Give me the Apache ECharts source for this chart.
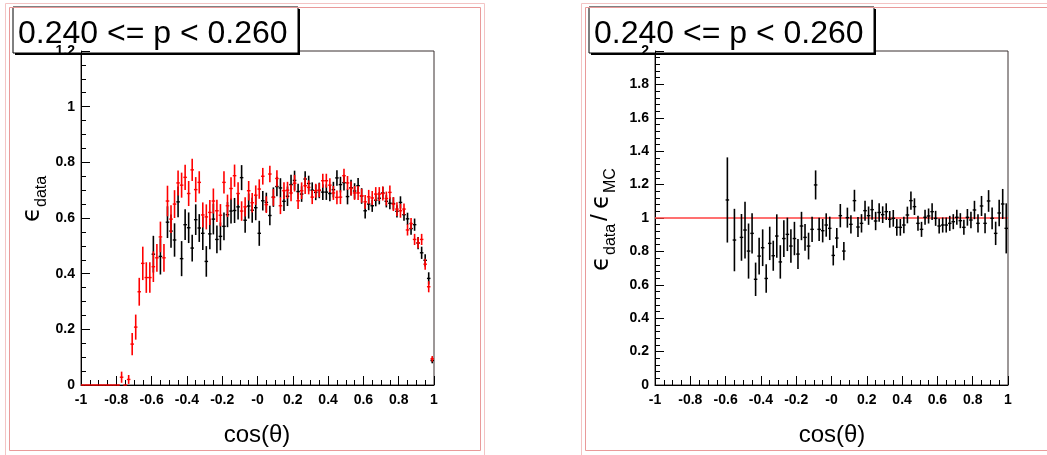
<!DOCTYPE html>
<html>
<head>
<meta charset="utf-8">
<script src="https://cdn.jsdelivr.net/npm/echarts@6/dist/echarts.min.js"></script>
<style>
html,body{margin:0;padding:0;background:#fff;}
#c{width:1047px;height:455px;}
</style>
</head>
<body>
<div id="c"></div>
<script>
// ---- data ----
const titleText = "0.240 <= p < 0.260";
const xTickLabels = ["-1","-0.8","-0.6","-0.4","-0.2","-0","0.2","0.4","0.6","0.8","1"];
const yTickLabelsEff = ["0","0.2","0.4","0.6","0.8","1","1.2"];
const yTickLabelsRatio = ["0","0.2","0.4","0.6","0.8","1","1.2","1.4","1.6","1.8","2"];
const nBins = 100, xLo = -1, xHi = 1;

// red efficiency (MC) per bin
const mcEff = [0,0,0,0,0,0,0,0,0,0,
  0,0.028,0,0.020,0.147,0.208,0.335,0.437,0.386,0.386,
  0.425,0.457,0.532,0.457,0.661,0.596,0.650,0.726,0.718,0.746,
  0.688,0.773,0.702,0.728,0.611,0.604,0.620,0.661,0.626,0.610,
  0.728,0.644,0.706,0.752,0.688,0.625,0.640,0.698,0.655,0.682,
  0.704,0.750,0.648,0.758,0.674,0.742,0.644,0.698,0.700,0.690,
  0.725,0.662,0.698,0.716,0.710,0.675,0.698,0.700,0.734,0.734,
  0.718,0.690,0.674,0.675,0.752,0.726,0.706,0.690,0.690,0.680,
  0.658,0.676,0.672,0.686,0.686,0.688,0.670,0.692,0.650,0.632,
  0.626,0.632,0.557,0.580,0.523,0.511,0.523,0.434,0.353,0.094];
const mcErr = [0,0,0,0,0,0,0,0,0,0,
  0,0.020,0,0.016,0.040,0.045,0.050,0.060,0.055,0.055,
  0.055,0.050,0.055,0.050,0.055,0.050,0.050,0.045,0.045,0.045,
  0.045,0.040,0.045,0.040,0.045,0.045,0.045,0.045,0.040,0.040,
  0.040,0.040,0.040,0.040,0.040,0.035,0.035,0.035,0.035,0.035,
  0.035,0.030,0.030,0.030,0.030,0.030,0.030,0.030,0.030,0.030,
  0.030,0.030,0.030,0.030,0.025,0.025,0.025,0.025,0.025,0.025,
  0.025,0.025,0.025,0.025,0.025,0.025,0.025,0.025,0.025,0.025,
  0.025,0.025,0.025,0.025,0.025,0.025,0.025,0.025,0.025,0.025,
  0.025,0.020,0.020,0.020,0.020,0.020,0.020,0.020,0.020,0.010];

// black efficiency (data) per bin
const dataEff = [null,null,null,null,null,null,null,null,null,null,
  null,null,null,null,null,null,null,null,null,null,
  0.470,null,0.462,null,0.585,0.553,0.521,0.658,0.454,0.576,
  0.565,0.492,0.594,0.564,0.545,0.444,0.543,0.596,0.523,0.534,
  0.570,0.612,0.625,0.627,0.640,0.745,0.592,0.643,0.628,0.637,
  0.545,0.662,0.656,0.609,0.675,0.713,0.708,0.660,0.678,0.720,
  0.735,0.695,0.686,0.740,0.724,0.700,0.692,0.699,0.693,0.693,
  0.688,0.702,0.744,0.720,0.727,0.677,0.709,0.697,0.716,0.679,
  0.626,0.650,0.644,0.664,0.671,0.690,0.660,0.653,0.652,0.624,
  0.656,0.612,0.597,0.562,0.576,0.510,0.475,0.448,0.383,0.088];
const dataErr = [null,null,null,null,null,null,null,null,null,null,
  null,null,null,null,null,null,null,null,null,null,
  0.066,null,0.065,null,0.057,0.060,0.060,0.055,0.063,0.055,
  0.055,0.048,0.055,0.050,0.060,0.055,0.055,0.055,0.050,0.050,
  0.050,0.045,0.045,0.045,0.045,0.045,0.045,0.045,0.045,0.045,
  0.045,0.035,0.035,0.035,0.035,0.035,0.035,0.035,0.035,0.035,
  0.035,0.028,0.028,0.028,0.028,0.028,0.028,0.028,0.028,0.028,
  0.028,0.028,0.028,0.028,0.028,0.028,0.028,0.028,0.028,0.028,
  0.028,0.022,0.022,0.022,0.022,0.022,0.022,0.022,0.022,0.022,
  0.022,0.022,0.022,0.022,0.022,0.022,0.022,0.022,0.022,0.010];

// ratio data/MC per bin
const ratio = [null,null,null,null,null,null,null,null,null,null,
  null,null,null,null,null,null,null,null,null,null,
  1.108,null,0.868,null,0.884,0.928,0.802,0.908,0.633,0.772,
  0.822,0.638,0.848,0.774,0.892,0.737,0.877,0.902,0.832,0.877,
  0.784,0.952,0.884,0.832,0.932,1.198,0.932,0.924,0.958,0.938,
  0.776,0.880,1.014,0.802,1.002,0.962,1.104,0.946,0.968,1.044,
  1.014,1.050,0.982,1.033,1.020,1.038,0.992,0.998,0.944,0.944,
  0.958,1.018,1.104,1.068,0.968,0.932,1.004,1.012,1.038,0.998,
  0.952,0.958,0.958,0.968,0.978,1.004,0.984,0.944,1.004,0.988,
  1.048,0.968,1.072,0.968,1.102,0.998,0.908,1.030,1.084,0.938];
const ratioErr = [null,null,null,null,null,null,null,null,null,null,
  null,null,null,null,null,null,null,null,null,null,
  0.255,null,0.187,null,0.140,0.170,0.165,0.120,0.100,0.110,
  0.110,0.085,0.100,0.090,0.130,0.100,0.110,0.100,0.100,0.100,
  0.090,0.085,0.080,0.080,0.075,0.087,0.070,0.070,0.070,0.070,
  0.060,0.060,0.070,0.055,0.060,0.055,0.065,0.060,0.055,0.060,
  0.055,0.060,0.055,0.055,0.050,0.050,0.050,0.050,0.050,0.050,
  0.050,0.050,0.055,0.050,0.045,0.045,0.045,0.045,0.050,0.045,
  0.045,0.045,0.045,0.045,0.045,0.045,0.045,0.045,0.050,0.050,
  0.055,0.055,0.060,0.060,0.065,0.065,0.070,0.080,0.090,0.150];

// ---- build ----
const binW = (xHi - xLo) / nBins;
function pts(vals, errs){
  const out = [];
  for (let i = 0; i < nBins; i++) {
    if (vals[i] === null || vals[i] === undefined) continue;
    out.push([xLo + binW*(i+0.5), vals[i], errs[i]]);
  }
  return out;
}
function errRender(color){
  return function(params, api){
    const x = api.value(0), v = api.value(1), e = api.value(2);
    const t = api.coord([x, v+e]), b = api.coord([x, v-e]);
    const l = api.coord([x-binW/2, v]), r = api.coord([x+binW/2, v]);
    const ch = [];
    if (e > 0) ch.push({type:'line', shape:{x1:t[0],y1:t[1],x2:b[0],y2:b[1]}, style:{stroke:color, lineWidth:1.6}});
    ch.push({type:'line', shape:{x1:l[0],y1:l[1],x2:r[0],y2:r[1]}, style:{stroke:color, lineWidth:1.4}});
    return {type:'group', children:ch};
  };
}
const FONT = 'Liberation Sans, Arial, sans-serif';
function xAxisDef(gi){
  return {
    gridIndex: gi, type:'value', min:-1, max:1, interval:0.2,
    axisLine:{show:true, onZero:false, lineStyle:{color:'#000', width:1}},
    axisTick:{show:true, inside:true, length:9, lineStyle:{color:'#000', width:1}},
    minorTick:{show:true, splitNumber:4, length:5, lineStyle:{color:'#000', width:1}},
    splitLine:{show:false}, minorSplitLine:{show:false},
    axisLabel:{show:true, margin:8, color:'#000', fontSize:14, fontWeight:'bold', fontFamily:FONT,
      formatter:function(v){ return xTickLabels[Math.round((v+1)/0.2)]; }}
  };
}
function yAxisDef(gi, max, minorSplit, labels){
  return {
    gridIndex: gi, type:'value', min:0, max:max, interval:0.2,
    axisLine:{show:true, onZero:false, lineStyle:{color:'#000', width:1}},
    axisTick:{show:true, inside:true, length:9, lineStyle:{color:'#000', width:1}},
    minorTick:{show:true, splitNumber:minorSplit, length:5, lineStyle:{color:'#000', width:1}},
    splitLine:{show:false}, minorSplitLine:{show:false},
    axisLabel:{show:true, margin:6, color:'#000', fontSize:14, fontWeight:'bold', fontFamily:FONT,
      formatter:function(v){ return labels[Math.round(v/0.2)]; }}
  };
}
function titleBox(x){
  return {type:'group', z:100, children:[
    {type:'rect', shape:{x:x+2, y:9, width:285, height:46}, style:{fill:'#000'}},
    {type:'rect', shape:{x:x, y:7, width:285, height:46}, style:{fill:'#fff', stroke:'#000', lineWidth:1}},
    {type:'text', x:x+5, y:34, style:{text:titleText, font:'32px Liberation Sans, Arial, sans-serif', fill:'#000', verticalAlign:'middle', align:'left'}}
  ]};
}
function padRects(x, w){
  return [
    {type:'rect', z:1, shape:{x:x+0.5, y:3.5, width:w, height:460}, style:{fill:null, stroke:'#f3c4c4', lineWidth:1}},
    {type:'rect', z:1, shape:{x:x+4.5, y:7.5, width:w-8, height:443}, style:{fill:null, stroke:'#e99a9a', lineWidth:1}}
  ];
}
const EPS = '\u03F5';
const option = {
  animation:false,
  backgroundColor:'#fff',
  grid:[
    {left:81, top:51, width:353, height:334, show:true, borderColor:'#3a3030', borderWidth:1, backgroundColor:'transparent'},
    {left:655, top:51, width:353, height:334, show:true, borderColor:'#3a3030', borderWidth:1, backgroundColor:'transparent'}
  ],
  xAxis:[xAxisDef(0), xAxisDef(1)],
  yAxis:[yAxisDef(0, 1.2, 4, yTickLabelsEff), yAxisDef(1, 2, 5, yTickLabelsRatio)],
  series:[
    {type:'custom', name:'data', xAxisIndex:0, yAxisIndex:0, renderItem:errRender('#000'), data:pts(dataEff, dataErr), clip:false, z:3},
    {type:'custom', name:'MC', xAxisIndex:0, yAxisIndex:0, renderItem:errRender('#ff0000'), data:pts(mcEff, mcErr), clip:false, z:4},
    {type:'line', xAxisIndex:1, yAxisIndex:1, data:[[-1,1],[1,1]], symbol:'none', lineStyle:{color:'#ff4040', width:1.5}, z:2},
    {type:'custom', name:'ratio', xAxisIndex:1, yAxisIndex:1, renderItem:errRender('#000'), data:pts(ratio, ratioErr), clip:false, z:4}
  ],
  graphic:[
    ...padRects(5, 479),
    ...padRects(581, 479),
    titleBox(13),
    titleBox(589),
    {type:'text', x:257, y:435, style:{text:'cos(\u03B8)', font:'24px Liberation Sans, Arial, sans-serif', fill:'#000', align:'center', verticalAlign:'middle'}},
    {type:'text', x:832, y:435, style:{text:'cos(\u03B8)', font:'24px Liberation Sans, Arial, sans-serif', fill:'#000', align:'center', verticalAlign:'middle'}},
    {type:'group', x:33, y:222, rotation:Math.PI/2, children:[
      {type:'text', x:0, y:0, style:{text:EPS, font:'24px DejaVu Sans, sans-serif', fill:'#000', align:'left', verticalAlign:'middle'}},
      {type:'text', x:15, y:9, style:{text:'data', font:'16px Liberation Sans, Arial, sans-serif', fill:'#000', align:'left', verticalAlign:'middle'}}
    ]},
    {type:'group', x:602, y:271, rotation:Math.PI/2, children:[
      {type:'text', x:0, y:0, style:{text:EPS, font:'24px DejaVu Sans, sans-serif', fill:'#000', align:'left', verticalAlign:'middle'}},
      {type:'text', x:16, y:9, style:{text:'data', font:'16px Liberation Sans, Arial, sans-serif', fill:'#000', align:'left', verticalAlign:'middle'}},
      {type:'text', x:50, y:-2, style:{text:'/', font:'24px Liberation Sans, Arial, sans-serif', fill:'#000', align:'left', verticalAlign:'middle'}},
      {type:'text', x:62, y:0, style:{text:EPS, font:'24px DejaVu Sans, sans-serif', fill:'#000', align:'left', verticalAlign:'middle'}},
      {type:'text', x:78, y:9, style:{text:'MC', font:'16px Liberation Sans, Arial, sans-serif', fill:'#000', align:'left', verticalAlign:'middle'}}
    ]}
  ]
};
const chart = echarts.init(document.getElementById('c'), null, {renderer:'canvas'});
chart.setOption(option);
</script>
</body>
</html>
